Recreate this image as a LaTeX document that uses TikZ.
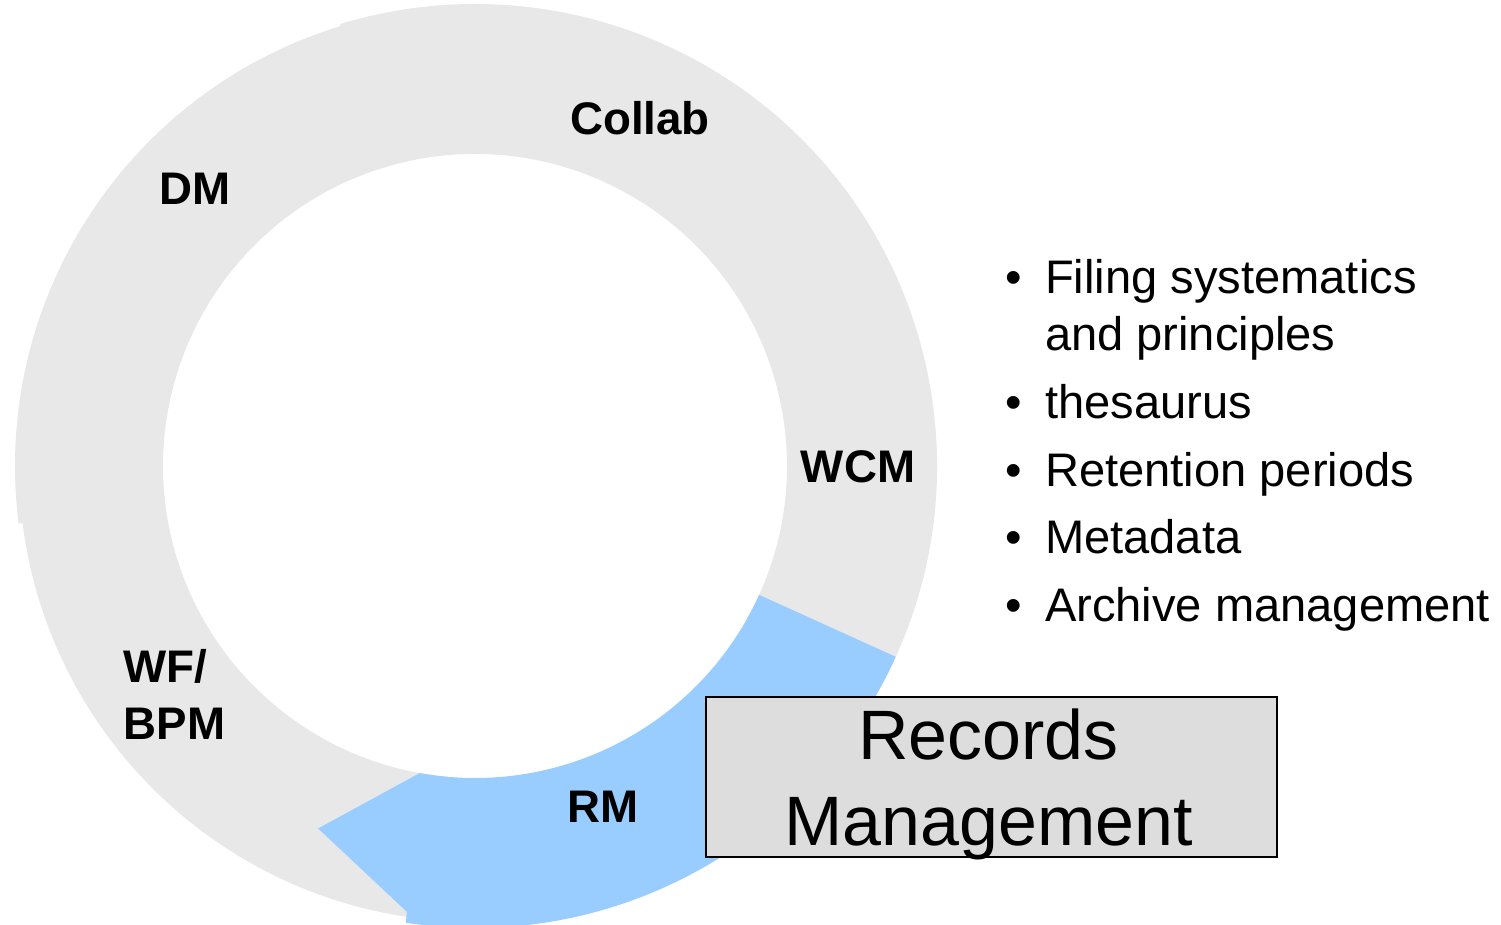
\documentclass[tikz,border=0pt]{standalone}
\usepackage{fontspec}
\setmainfont{Liberation Sans}

\definecolor{ringgrey}{HTML}{E8E8E8}
\definecolor{rmblue}{HTML}{99CCFF}
\definecolor{boxgrey}{HTML}{DDDDDD}

\newcommand{\ringpart}[4]{%
  \fill [#1] (#2:#4) arc [start angle=#2, end angle=#3, radius=#4] -- (#3:3.12) arc [start angle=#3, end angle=#2, radius=3.12] -- cycle;}

\tikzset{
  seglabel/.style={font=\fontsize{13}{16.2}\selectfont\bfseries},
  rmbox/.style={draw=black, line width=0.6pt, fill=boxgrey, minimum width=5.71cm, minimum height=1.6cm, inner sep=0pt},
  rmtext/.style={font=\fontsize{19.9}{24.5}\selectfont, align=center, inner sep=0pt},
  factlist/.style={font=\fontsize{13.4}{16.2}\selectfont, inner sep=0pt, anchor=north west}
}

\begin{document}
\begin{tikzpicture}
\useasboundingbox (0,0) rectangle (15.01,9.25);

\begin{scope}[shift={(4.75,4.59)}]
\ringpart{ringgrey}{-30}{107}{4.62}
\ringpart{ringgrey}{187}{265}{4.56}
\ringpart{ringgrey}{106.8}{187.2}{4.60}
%\ringpart{rmblue}{-98.6}{-24.4}{4.62}
\fill [rmblue] (-24.4:4.62) arc [start angle=-24.4, end angle=-98.6, radius=4.62] -- (-98.7:4.51) -- (-113.4:3.95) -- (-100.2:3.12) arc [start angle=-100.2, end angle=-24.4, radius=3.12] -- cycle;
\end{scope}

\node [seglabel, anchor=base] (collab) at (6.40,7.90) {Collab};
\node [seglabel, anchor=base] (dm) at (1.95,7.20) {DM};
\node [seglabel, anchor=base] (wcm) at (8.58,4.42) {WCM};
\node [seglabel, anchor=north west, align=left, inner sep=0pt] (wfbpm) at (1.23,2.76) {WF/\\BPM};
\node [seglabel, anchor=base] (rm) at (6.03,1.02) {RM};

\node [rmbox] (recbox) at (9.915,1.48) {};
\node [rmtext] (rectitle) at ([xshift=-0.03cm, yshift=-0.07cm]recbox.center) {Records\\Management};

\node [factlist] (facts) at (10.05,6.72) {\begin{tabular}{@{}l@{\hspace{6.5pt}}l@{}}
\textbullet & Filing systematics\\
 & and principles\\[3.1pt]
\textbullet & thesaurus\\[3.1pt]
\textbullet & Retention periods\\[3.1pt]
\textbullet & Metadata\\[3.1pt]
\textbullet & Archive management
\end{tabular}};

\end{tikzpicture}
\end{document}
